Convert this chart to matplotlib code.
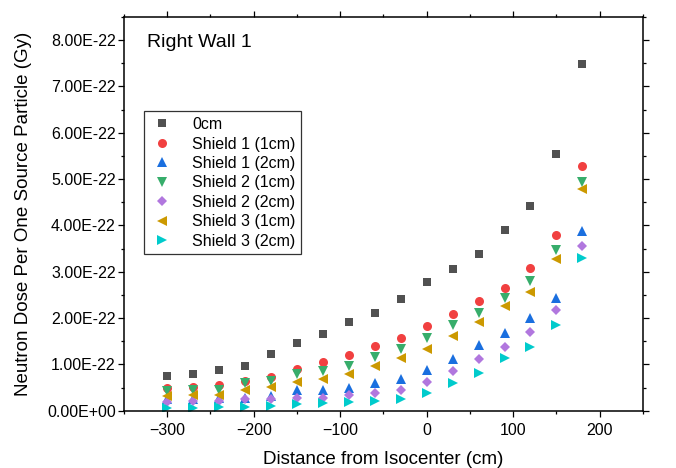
import numpy as np
import matplotlib
matplotlib.use('Agg')
import matplotlib.pyplot as plt
from matplotlib.ticker import MultipleLocator, FuncFormatter

plt.rcParams['font.family'] = ['Liberation Sans', 'DejaVu Sans']

# Distance from isocenter (cm)
distance = [-300, -270, -240, -210, -180, -150, -120, -90, -60, -30,
            0, 30, 60, 90, 120, 150, 180]

# Neutron dose per source particle, in units of 1E-22 Gy
dose_0cm = [0.75, 0.79, 0.87, 0.97, 1.22, 1.47, 1.65, 1.91, 2.12, 2.41,
            2.77, 3.05, 3.38, 3.90, 4.43, 5.55, 7.48]
dose_s1_1cm = [0.50, 0.51, 0.55, 0.64, 0.72, 0.91, 1.06, 1.20, 1.39, 1.58,
               1.82, 2.09, 2.36, 2.66, 3.08, 3.79, 5.28]
dose_s1_2cm = [0.25, 0.26, 0.27, 0.28, 0.32, 0.44, 0.45, 0.50, 0.60, 0.68,
               0.88, 1.11, 1.41, 1.67, 2.01, 2.44, 3.87]
dose_s2_1cm = [0.43, 0.45, 0.45, 0.60, 0.65, 0.79, 0.85, 0.97, 1.16, 1.34,
               1.58, 1.84, 2.11, 2.43, 2.80, 3.46, 4.94]
dose_s2_2cm = [0.19, 0.21, 0.22, 0.25, 0.25, 0.27, 0.28, 0.33, 0.38, 0.44,
               0.63, 0.85, 1.11, 1.38, 1.69, 2.18, 3.56]
dose_s3_1cm = [0.32, 0.34, 0.34, 0.44, 0.51, 0.61, 0.68, 0.80, 0.96, 1.13,
               1.34, 1.61, 1.91, 2.25, 2.57, 3.27, 4.79]
dose_s3_2cm = [0.05, 0.065, 0.07, 0.09, 0.11, 0.14, 0.17, 0.18, 0.22, 0.26,
               0.38, 0.60, 0.82, 1.13, 1.38, 1.86, 3.29]

series = [
    ('0cm', dose_0cm, 's', '#515151', 6.0),
    ('Shield 1 (1cm)', dose_s1_1cm, 'o', '#F14040', 6.5),
    ('Shield 1 (2cm)', dose_s1_2cm, '^', '#1A6FDF', 7.0),
    ('Shield 2 (1cm)', dose_s2_1cm, 'v', '#37AD6B', 7.0),
    ('Shield 2 (2cm)', dose_s2_2cm, 'D', '#B177DE', 5.0),
    ('Shield 3 (1cm)', dose_s3_1cm, '<', '#CC9900', 7.0),
    ('Shield 3 (2cm)', dose_s3_2cm, '>', '#00CBCC', 7.0),
]

fig = plt.figure(figsize=(6.76, 4.68), dpi=100)
ax = fig.add_axes([0.1834, 0.1224, 0.7676, 0.8413])

for label, vals, marker, color, ms in series:
    ax.plot(distance, np.array(vals) * 1e-22, linestyle='none', marker=marker,
            color=color, markersize=ms, markeredgewidth=0, label=label)

ax.set_xlim(-350, 250)
ax.set_ylim(0, 8.5e-22)
ax.xaxis.set_major_locator(MultipleLocator(100))
ax.xaxis.set_minor_locator(MultipleLocator(50))
ax.yaxis.set_major_locator(MultipleLocator(1e-22))
ax.yaxis.set_minor_locator(MultipleLocator(0.5e-22))
ax.yaxis.set_major_formatter(FuncFormatter(lambda v, p: f'{v:.2E}'))
ax.yaxis.offsetText.set_visible(False)

ax.tick_params(which='both', direction='out', top=True, right=True,
               labeltop=False, labelright=False, width=0.9, labelsize=11.5,
               colors='black', pad=2)
ax.tick_params(axis='x', which='major', pad=5)
ax.tick_params(which='major', length=4)
ax.tick_params(which='minor', length=2.5)
for sp in ax.spines.values():
    sp.set_linewidth(1.1)

ax.set_xlabel('Distance from Isocenter (cm)', fontsize=13.5, labelpad=9)
ax.set_ylabel('Neutron Dose Per One Source Particle (Gy)', fontsize=13.5,
              labelpad=11)

ax.text(0.045, 0.935, 'Right Wall 1', transform=ax.transAxes, fontsize=14,
        va='center', ha='left')

leg = ax.legend(loc='upper left', bbox_to_anchor=(0.038, 0.76), fontsize=11.5,
                frameon=True, fancybox=False, borderpad=0.35, labelspacing=0.28,
                handletextpad=1.1, handlelength=1.6, borderaxespad=0)
leg.get_frame().set_edgecolor('#333333')
leg.get_frame().set_linewidth(0.9)
leg.get_frame().set_alpha(1)

fig.savefig('out.png', dpi=100)
